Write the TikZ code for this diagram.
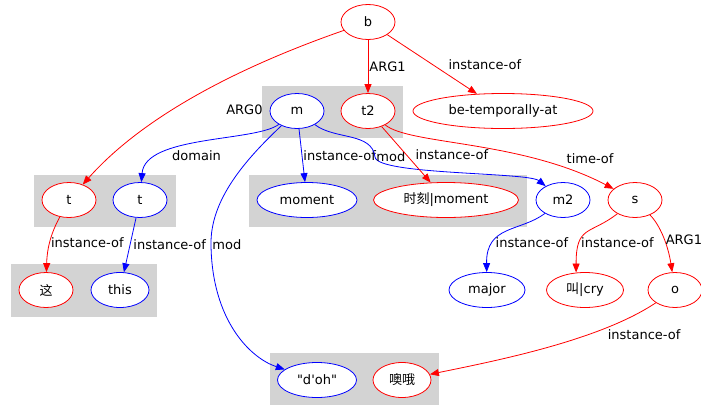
\documentclass[tikz,border=0pt]{standalone}
\usepackage{fontspec}
\setmainfont{DejaVu Sans}[Ligatures=TeXOff]
\newfontfamily\cjk{Noto Sans CJK SC}
\usepackage{tikz}
\usetikzlibrary{arrows.meta,positioning,shapes.geometric}
\definecolor{boxgray}{RGB}{211,211,211}
\tikzset{
  redvar/.style={ellipse, draw=red, fill=white, line width=0.8pt, minimum width=#1, minimum height=35pt, inner sep=1pt},
  redvar/.default=54pt,
  bluevar/.style={ellipse, draw=blue, fill=white, line width=0.8pt, minimum width=#1, minimum height=35pt, inner sep=1pt},
  bluevar/.default=54pt,
  rel/.style={-{Triangle[length=9pt,width=7pt]}, line width=0.8pt},
  redrel/.style={rel, red},
  bluerel/.style={rel, blue},
  lbl/.style={inner sep=1pt, text=black},
  cluster/.style={fill=boxgray}
}

\begin{document}
\begin{tikzpicture}[x=1pt, y=-1pt, font=\fontsize{13}{15}\selectfont]
  \useasboundingbox (0,0) rectangle (701,405);
  % Define boxes
  \fill[cluster] (262,86) rectangle (403,138);
  \fill[cluster] (34,175) rectangle (176,227);
  \fill[cluster] (249,175) rectangle (527,227);
  \fill[cluster] (11,264) rectangle (157,317);
  \fill[cluster] (270,353) rectangle (439,405);
  % Define nodes
  \node[redvar]              (b)     at (368,22)  {b};
  \node[bluevar]             (m)     at (297,111) {m};
  \node[redvar]              (t2)    at (368,111) {t2};
  \node[redvar=180pt]        (bta)   at (503,111) {be-temporally-at};
  \node[redvar]              (t)     at (69,200)  {t};
  \node[bluevar]             (tb)    at (140,200) {t};
  \node[bluevar=100pt]       (mom)   at (307,200) {moment};
  \node[redvar=145pt]        (shike) at (446,200) {{\cjk 时刻}|moment};
  \node[bluevar]             (m2)    at (563,200) {m2};
  \node[redvar]              (s)     at (635,200) {s};
  \node[redvar]              (zhe)   at (46,290)  {\cjk 这};
  \node[bluevar=58pt]        (this)  at (120,290) {this};
  \node[bluevar=76pt]        (major) at (487,290) {major};
  \node[redvar=77pt]         (jiao)  at (585,290) {{\cjk 叫}|cry};
  \node[redvar]              (o)     at (675,290) {o};
  \node[bluevar=79pt]        (doh)   at (317,380) {"d'oh"};
  \node[redvar=58pt]         (oe)    at (402,380) {\cjk 噢哦};
  % Connect the nodes
  \draw[redrel] (b) .. controls (230,70) and (140,120) .. (t)
    node[lbl, pos=.45, xshift=39pt, yshift=-19pt] {ARG0} ; %
  \draw[redrel] (b) -- (t2) node[lbl, midway, right] {ARG1} ; %
  \draw[redrel] (b) -- (bta) node[lbl, midway, right=15pt] {instance-of} ; %
  \draw[bluerel] (m) .. controls (255,142) and (145,135) .. (tb)
    node[lbl, pos=.5, below=7pt, xshift=-6pt] {domain} ; %
  \draw[bluerel] (m) -- (mom) node[lbl, midway, right] {instance-of} ; %
  \draw[bluerel] (m) .. controls (335,140) and (372,132) .. (375,157) node[lbl, right] {mod}
    .. controls (377,175) and (528,172) .. (m2) ; %
  \draw[bluerel] (m) .. controls (245,160) and (210,200) .. (211,245) node[lbl, right] {mod}
    .. controls (212,320) and (250,358) .. (doh) ; %
  \draw[redrel] (t2) -- (shike) node[lbl, midway, right=8pt] {instance-of} ; %
  \draw[redrel] (t2) .. controls (410,145) and (520,140) .. (s)
    node[lbl, pos=.8, anchor=south west, xshift=9pt] {time-of} ; %
  \draw[redrel] (t) .. controls (50,235) and (47,250) .. (zhe)
    node[lbl, pos=.5, right] {instance-of} ; %
  \draw[bluerel] (tb) -- (this) node[lbl, midway, right=2pt] {instance-of} ; %
  \draw[bluerel] (m2) .. controls (520,232) and (486,225) .. (major)
    node[lbl, pos=.7, right] {instance-of} ; %
  \draw[redrel] (s) .. controls (590,235) and (576,225) .. (jiao.117)
    node[lbl, pos=.7, right] {instance-of} ; %
  \draw[redrel] (s) .. controls (660,225) and (668,245) .. (o)
    node[lbl, pos=.55, right] {ARG1} ; %
  \draw[redrel] (o) .. controls (600,340) and (500,360) .. (oe)
    node[lbl, pos=.05, below=20pt, xshift=-3pt] {instance-of} ; %
\end{tikzpicture}
\end{document}
